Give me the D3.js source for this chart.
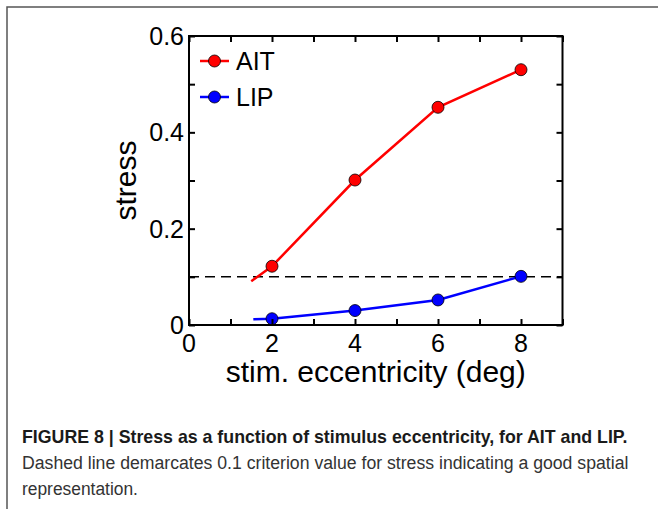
<!DOCTYPE html>
<html>
<head>
<meta charset="utf-8">
<script src="https://cdn.jsdelivr.net/npm/d3@7"></script>
<style>
  body { margin: 0; background: #fff; }
  svg { display: block; }
</style>
</head>
<body>
<script>
const width = 658;
const height = 509;

// series (stress vs eccentricity in deg)
const aitX = [1.5, 2, 4, 6, 8];
const aitY = [0.091, 0.122, 0.301, 0.452, 0.530];
const lipX = [1.55, 2, 4, 6, 8];
const lipY = [0.012, 0.013, 0.030, 0.052, 0.101];
// only the whole-degree points carry a marker
const markerX = [2, 4, 6, 8];

const criterion = 0.1;
const xTicks = [0, 1, 2, 3, 4, 5, 6, 7, 8, 9];
const xLabels = [0, 2, 4, 6, 8];
const yTicks = [0, 0.1, 0.2, 0.3, 0.4, 0.5, 0.6];
const yLabels = [0, 0.2, 0.4, 0.6];

const captionBold = "FIGURE 8 | Stress as a function of stimulus eccentricity, for AIT and LIP.";
const captionLines = [
    "Dashed line demarcates 0.1 criterion value for stress indicating a good spatial",
    "representation."
];

const plot = { left: 189, right: 562.5, top: 36, bottom: 325 };

const x = d3.scaleLinear().domain([0, 9]).range([plot.left, plot.right]);
const y = d3.scaleLinear().domain([0, 0.6]).range([plot.bottom, plot.top]);

const svg = d3.create("svg")
    .attr("width", width)
    .attr("height", height);

document.body.appendChild(svg.node());

// figure frame (only top + left visible)
svg.append("path")
    .attr("d", `M7,${height} L7,7 L${width},7`)
    .attr("fill", "none")
    .attr("stroke", "#555")
    .attr("stroke-width", 1.5);

const font = "'Liberation Sans', Arial, sans-serif";

// dashed criterion line
svg.append("line")
    .attr("x1", x(0)).attr("x2", x(9))
    .attr("y1", y(criterion)).attr("y2", y(criterion))
    .attr("stroke", "#000")
    .attr("stroke-width", 1.5)
    .attr("stroke-dasharray", "10,6");

const line = d3.line()
    .x(d => x(d[0]))
    .y(d => y(d[1]));

const series = [
    { name: "AIT", color: "#ff0000", xs: aitX, ys: aitY },
    { name: "LIP", color: "#0000ff", xs: lipX, ys: lipY }
];

series.forEach(s => {
    const pts = s.xs.map((v, i) => [v, s.ys[i]]);
    svg.append("path")
        .datum(pts)
        .attr("fill", "none")
        .attr("stroke", s.color)
        .attr("stroke-width", 2.5)
        .attr("d", line);

    svg.append("g")
        .selectAll("circle")
        .data(pts.filter(p => markerX.includes(p[0])))
        .join("circle")
        .attr("cx", d => x(d[0]))
        .attr("cy", d => y(d[1]))
        .attr("r", 6)
        .attr("fill", s.color)
        .attr("stroke", "#000")
        .attr("stroke-width", 0.8);
});

// axes: inward ticks on all four sides
const tickLen = 6;
const bottomAxis = d3.axisBottom(x).tickValues(xTicks).tickSize(-tickLen).tickFormat("");
const topAxis = d3.axisTop(x).tickValues(xTicks).tickSize(-tickLen).tickFormat("");
const leftAxis = d3.axisLeft(y).tickValues(yTicks).tickSize(-tickLen).tickFormat("");
const rightAxis = d3.axisRight(y).tickValues(yTicks).tickSize(-tickLen).tickFormat("");

[
    [bottomAxis, `translate(0,${plot.bottom})`],
    [topAxis, `translate(0,${plot.top})`],
    [leftAxis, `translate(${plot.left},0)`],
    [rightAxis, `translate(${plot.right},0)`]
].forEach(([ax, tr]) => {
    const g = svg.append("g").attr("transform", tr).call(ax);
    g.select(".domain").remove();
    g.selectAll("line").attr("stroke", "#000").attr("stroke-width", 2);
});

svg.append("rect")
    .attr("x", plot.left).attr("y", plot.top)
    .attr("width", plot.right - plot.left)
    .attr("height", plot.bottom - plot.top)
    .attr("fill", "none")
    .attr("stroke", "#000")
    .attr("stroke-width", 2);

// tick labels
svg.append("g")
    .selectAll("text")
    .data(xLabels)
    .join("text")
    .attr("x", d => x(d))
    .attr("y", plot.bottom + 27)
    .attr("text-anchor", "middle")
    .attr("font-family", font)
    .attr("font-size", 25)
    .text(d => d);

svg.append("g")
    .selectAll("text")
    .data(yLabels)
    .join("text")
    .attr("x", plot.left - 5)
    .attr("y", d => y(d) + 9)
    .attr("text-anchor", "end")
    .attr("font-family", font)
    .attr("font-size", 25)
    .text(d => d);

// axis titles
svg.append("text")
    .attr("x", (plot.left + plot.right) / 2)
    .attr("y", 382)
    .attr("text-anchor", "middle")
    .attr("font-family", font)
    .attr("font-size", 30)
    .text("stim. eccentricity (deg)");

svg.append("text")
    .attr("transform", `translate(136,${(plot.top + plot.bottom) / 2}) rotate(-90)`)
    .attr("text-anchor", "middle")
    .attr("font-family", font)
    .attr("font-size", 30)
    .text("stress");

// legend
const legend = svg.append("g");
series.forEach((s, i) => {
    const ly = 61 + i * 36;
    legend.append("line")
        .attr("x1", 200).attr("x2", 229)
        .attr("y1", ly).attr("y2", ly)
        .attr("stroke", s.color)
        .attr("stroke-width", 2.5);
    legend.append("circle")
        .attr("cx", 214.5).attr("cy", ly)
        .attr("r", 6)
        .attr("fill", s.color)
        .attr("stroke", "#000")
        .attr("stroke-width", 0.8);
    legend.append("text")
        .attr("x", 236)
        .attr("y", ly + 9)
        .attr("font-family", font)
        .attr("font-size", 25)
        .text(s.name);
});

// caption: condensed look by squeezing horizontally to the reference widths
const capRows = [
    { text: captionBold, y: 443, weight: "bold", len: 606, fill: "#1a1a1a" },
    { text: captionLines[0], y: 469, weight: "normal", len: 607, fill: "#333" },
    { text: captionLines[1], y: 495, weight: "normal", len: 116, fill: "#333" }
];
svg.append("g")
    .selectAll("text")
    .data(capRows)
    .join("text")
    .attr("x", 0)
    .attr("y", 0)
    .attr("font-family", font)
    .attr("font-weight", d => d.weight)
    .attr("font-size", 19)
    .attr("fill", d => d.fill)
    .text(d => d.text)
    .attr("transform", function (d) {
        const w = this.getComputedTextLength();
        const sx = w > 0 ? d.len / w : 1;
        return `translate(22,${d.y}) scale(${sx},1)`;
    });
</script>
</body>
</html>
